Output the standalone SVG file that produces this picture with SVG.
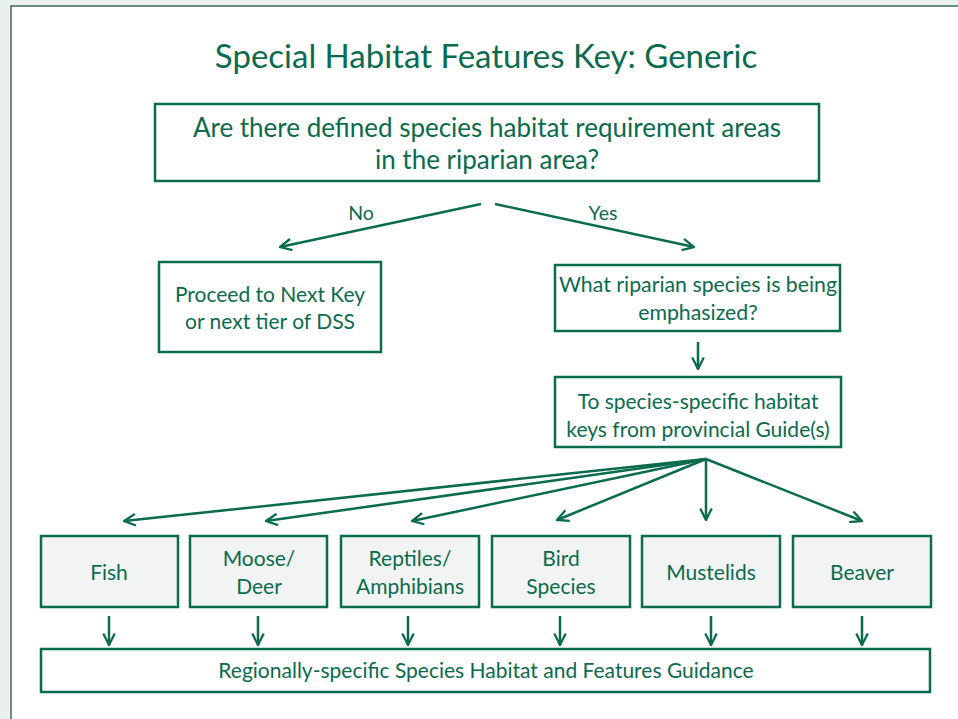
<svg xmlns="http://www.w3.org/2000/svg" width="958" height="719" viewBox="0 0 958 719">
<defs>
<style>
.t{font-family:Lato,"Open Sans","Liberation Sans",sans-serif;fill:#0b6b4d;text-anchor:middle}
.box{fill:#fff;stroke:#0b6b4d;stroke-width:2.5}
.sbox{fill:#f2f4f3;stroke:#0b6b4d;stroke-width:2.5}
.c{stroke:#0b6b4d;stroke-width:2.5;fill:none;marker-end:url(#ah)}
</style>
<marker id="ah" viewBox="0 0 12 12" refX="11" refY="6" markerWidth="5.5" markerHeight="5.5" orient="auto" markerUnits="strokeWidth">
<path d="M1,1 L11,6 L1,11" fill="none" stroke="#0b6b4d" stroke-width="2"/>
</marker>
</defs>
<rect x="0" y="0" width="958" height="719" fill="#e9f0ed"/>
<rect x="11" y="6" width="960" height="720" fill="#fff" stroke="#3f6b5a" stroke-width="1.5"/>
<text class="t" x="486" y="68" font-size="33">Special Habitat Features Key: Generic</text>

<g id="q1">
<rect class="box" x="155" y="104" width="664" height="77"/>
<text class="t" x="487" y="137" font-size="26">Are there defined species habitat requirement areas</text>
<text class="t" x="487" y="169" font-size="26">in the riparian area?</text>
</g>
<g id="nextkey">
<rect class="box" x="159" y="262" width="222" height="90"/>
<text class="t" x="270" y="302" font-size="21">Proceed to Next Key</text>
<text class="t" x="270" y="329" font-size="21">or next tier of DSS</text>
</g>
<g id="q2">
<rect class="box" x="555" y="265" width="285" height="66"/>
<text class="t" x="698" y="292" font-size="21.3">What riparian species is being</text>
<text class="t" x="698" y="320" font-size="21.3">emphasized?</text>
</g>
<g id="keys">
<rect class="box" x="555" y="377" width="286" height="70"/>
<text class="t" x="698" y="409" font-size="21">To species-specific habitat</text>
<text class="t" x="698" y="437" font-size="21">keys from provincial Guide(s)</text>
</g>
<g id="fish">
<rect class="sbox" x="41" y="536" width="137" height="71"/>
<text class="t" x="109" y="580" font-size="21">Fish</text>
</g>
<g id="moose">
<rect class="sbox" x="190" y="536" width="137" height="71"/>
<text class="t" x="259" y="566" font-size="21">Moose/</text>
<text class="t" x="259" y="594" font-size="21">Deer</text>
</g>
<g id="reptiles">
<rect class="sbox" x="341" y="536" width="138" height="71"/>
<text class="t" x="410" y="566" font-size="21">Reptiles/</text>
<text class="t" x="410" y="594" font-size="21">Amphibians</text>
</g>
<g id="bird">
<rect class="sbox" x="492" y="536" width="138" height="71"/>
<text class="t" x="561" y="566" font-size="21">Bird</text>
<text class="t" x="561" y="594" font-size="21">Species</text>
</g>
<g id="mustelids">
<rect class="sbox" x="642" y="536" width="138" height="71"/>
<text class="t" x="711" y="580" font-size="21">Mustelids</text>
</g>
<g id="beaver">
<rect class="sbox" x="793" y="536" width="138" height="71"/>
<text class="t" x="862" y="580" font-size="21">Beaver</text>
</g>
<g id="guidance">
<rect class="box" x="41" y="649" width="889" height="43"/>
<text class="t" x="486" y="678" font-size="21">Regionally-specific Species Habitat and Features Guidance</text>
</g>

<g id="connectors">
<line class="c" x1="481" y1="204" x2="280" y2="247"/>
<line class="c" x1="495" y1="204" x2="694" y2="247"/>
<text class="t" x="361" y="220" font-size="19.5">No</text>
<text class="t" x="603" y="220" font-size="19.5">Yes</text>
<line class="c" x1="698" y1="342" x2="698" y2="369"/>
<line class="c" x1="706" y1="459" x2="124" y2="521"/>
<line class="c" x1="706" y1="459" x2="266" y2="521"/>
<line class="c" x1="706" y1="459" x2="412" y2="521"/>
<line class="c" x1="706" y1="459" x2="557" y2="520"/>
<line class="c" x1="706" y1="459" x2="706" y2="520"/>
<line class="c" x1="706" y1="459" x2="862" y2="521"/>
<line class="c" x1="109" y1="616" x2="109" y2="645"/>
<line class="c" x1="258" y1="616" x2="258" y2="645"/>
<line class="c" x1="408" y1="616" x2="408" y2="645"/>
<line class="c" x1="560" y1="616" x2="560" y2="645"/>
<line class="c" x1="711" y1="616" x2="711" y2="645"/>
<line class="c" x1="862" y1="616" x2="862" y2="645"/>
</g>
</svg>
